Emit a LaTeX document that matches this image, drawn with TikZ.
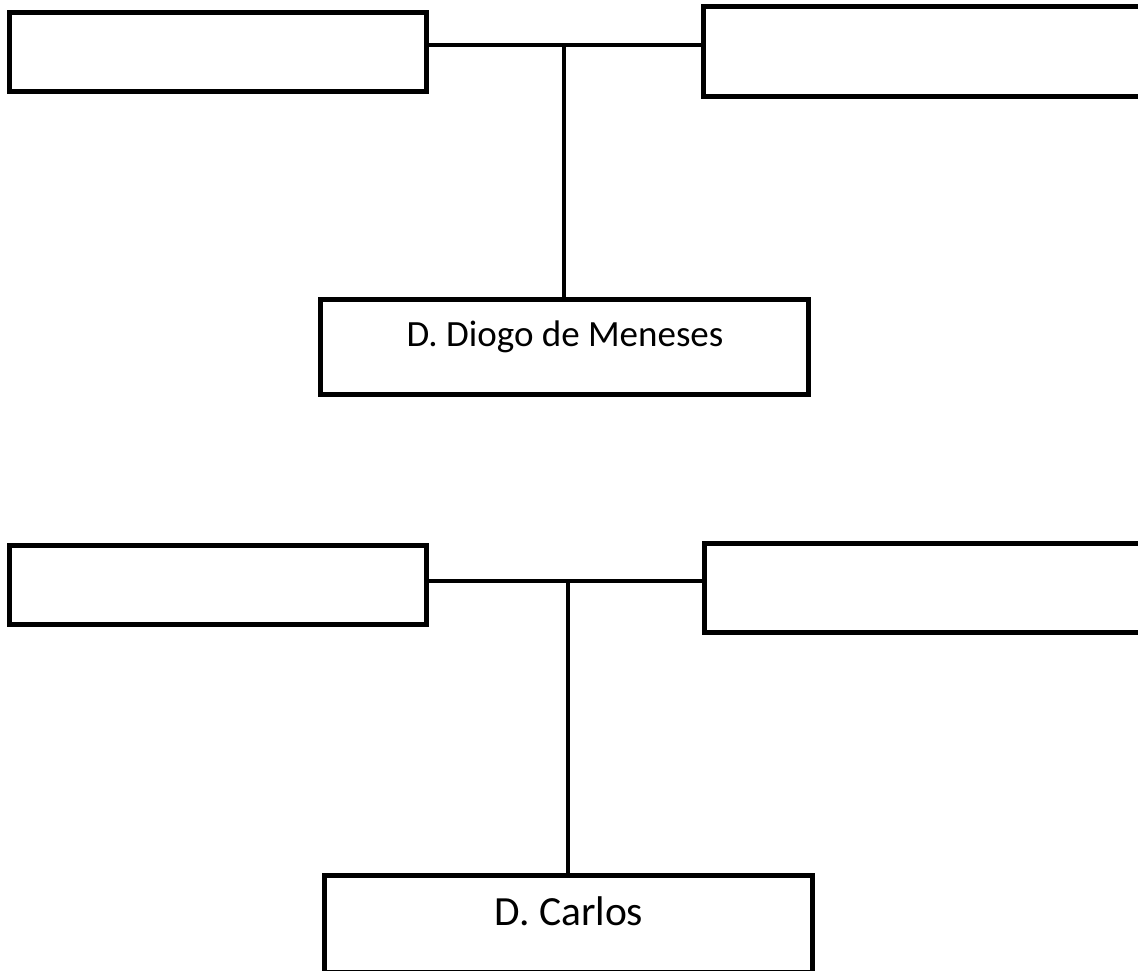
\documentclass[tikz,border=0pt]{standalone}
\usepackage{fontspec}
\setmainfont{Carlito}
\begin{document}
\begin{tikzpicture}[x=1pt,y=-1pt,
  famebox/.style={draw=black,line width=5pt,fill=white,inner sep=0pt},
  tieline/.style={draw=black,line width=4pt},
  namelabel/.style={anchor=base,inner sep=0pt,text=black}]
\useasboundingbox (0,0) rectangle (1138,970);
\clip (0,0) rectangle (1138,970);
% top family
\node[famebox,minimum width=416.5pt,minimum height=79pt] (tl1) at (217.75,51.5) {};
\node[famebox,minimum width=450pt,minimum height=89.8pt] (tr1) at (928.5,51.25) {};
\node[famebox,minimum width=488pt,minimum height=95pt] (d1) at (564,347) {};
\coordinate (j1) at (564,45);
\draw[tieline] (tl1.east |- j1) -- (tr1.west |- j1);
\draw[tieline] (j1) -- (d1.north);
\node[namelabel,font=\fontsize{37}{44}\selectfont] (n1) at ([xshift=1pt,yshift=-49pt]d1.north) {D. Diogo de Meneses};
% bottom family
\node[famebox,minimum width=417pt,minimum height=79.5pt] (tl2) at (218,584.75) {};
\node[famebox,minimum width=450pt,minimum height=89pt] (tr2) at (929.5,587.5) {};
\node[famebox,minimum width=488pt,minimum height=97pt] (d2) at (568,923.5) {};
\coordinate (j2) at (568,580.5);
\draw[tieline] (tl2.east |- j2) -- (tr2.west |- j2);
\draw[tieline] (j2) -- (d2.north);
\node[namelabel,font=\fontsize{41.5}{50}\selectfont] (n2) at ([xshift=1pt,yshift=-53pt]d2.north) {D. Carlos};
\end{tikzpicture}
\end{document}
